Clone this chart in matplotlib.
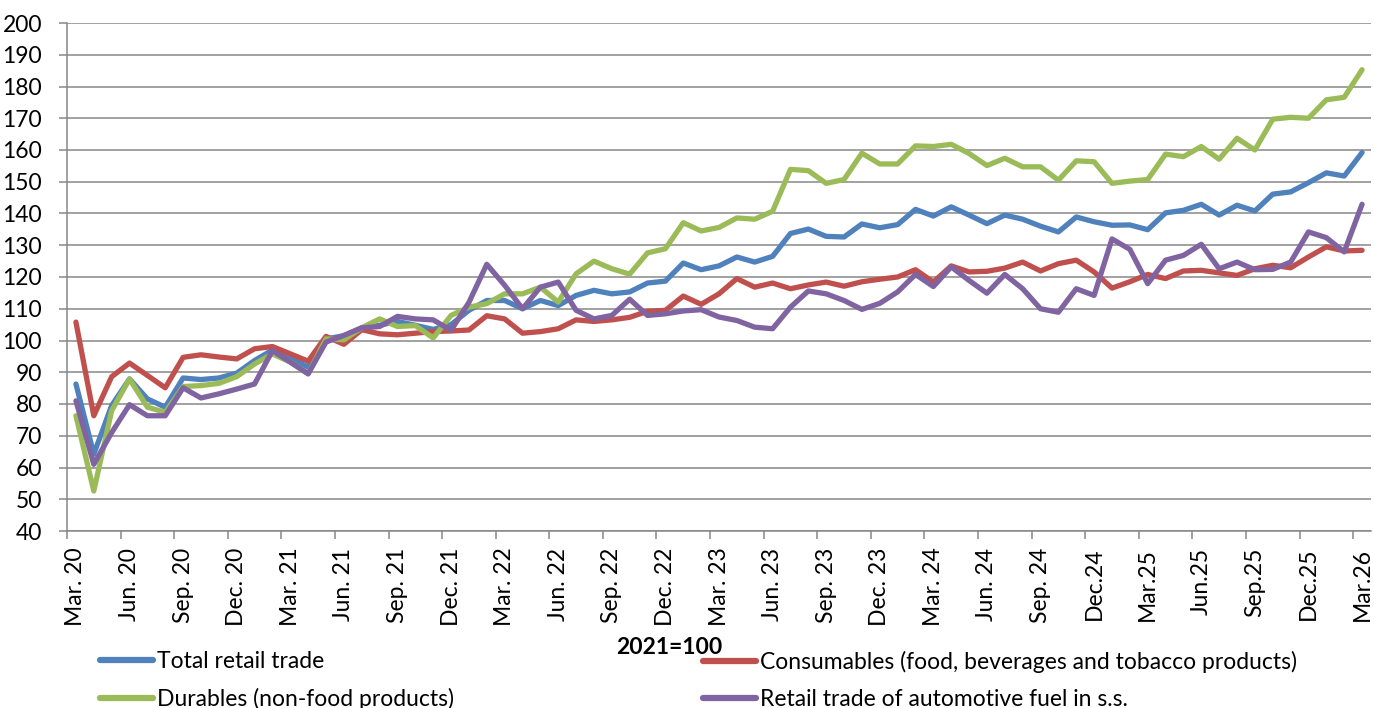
import matplotlib
matplotlib.use('Agg')
import matplotlib.pyplot as plt
import numpy as np

plt.rcParams['font.family'] = ['Lato', 'DejaVu Sans']

# monthly index values, Mar 2020 .. Mar 2026 (2021=100)
total = [86.3, 64.2, 79.5, 87.9, 81.6, 79.0, 88.2, 87.7, 88.2, 89.7, 93.7, 97.0, 94.5,
         91.6, 100.5, 101.5, 104.0, 104.8, 106.0, 104.8, 103.5, 105.0, 109.5, 112.6, 112.6,
         110.0, 112.6, 111.0, 114.2, 115.8, 114.7, 115.3, 118.1, 118.7, 124.4, 122.3, 123.5,
         126.3, 124.7, 126.5, 133.7, 135.1, 132.8, 132.6, 136.7, 135.5, 136.5, 141.3, 139.2,
         142.1, 139.5, 136.8, 139.5, 138.2, 136.0, 134.2, 138.9, 137.4, 136.3, 136.4, 134.9,
         140.2, 141.0, 142.9, 139.5, 142.6, 140.8, 146.1, 146.8, 149.7, 152.8, 151.8, 159.2]
consumables = [105.8, 76.3, 88.6, 92.9, 89.0, 85.1, 94.7, 95.5, 94.8, 94.2, 97.4, 98.1, 95.8,
               93.5, 101.3, 98.8, 103.4, 102.1, 101.8, 102.3, 102.8, 103.0, 103.3, 107.8, 106.8,
               102.3, 102.8, 103.7, 106.5, 106.0, 106.5, 107.3, 109.2, 109.5, 114.0, 111.4, 114.7,
               119.5, 116.8, 118.1, 116.3, 117.5, 118.4, 117.1, 118.5, 119.3, 120.0, 122.3, 118.4,
               123.5, 121.6, 121.8, 122.8, 124.7, 121.9, 124.2, 125.3, 121.6, 116.5, 118.5, 120.8,
               119.5, 121.9, 122.1, 121.3, 120.5, 122.6, 123.7, 122.9, 126.3, 129.5, 128.2, 128.4]
durables = [76.3, 52.6, 77.9, 87.9, 79.0, 77.4, 85.5, 85.8, 86.5, 88.6, 92.6, 95.8, 93.2,
            89.5, 100.5, 100.2, 104.0, 106.8, 104.4, 104.7, 100.8, 107.9, 110.5, 111.6, 114.7,
            114.7, 116.8, 112.1, 121.0, 125.0, 122.6, 120.9, 127.6, 128.9, 137.1, 134.5, 135.6,
            138.6, 138.2, 140.7, 153.9, 153.5, 149.5, 150.7, 159.0, 155.6, 155.6, 161.3, 161.1,
            161.8, 158.9, 155.1, 157.4, 154.7, 154.7, 150.5, 156.6, 156.3, 149.5, 150.2, 150.7,
            158.7, 157.9, 161.1, 157.1, 163.7, 160.0, 169.7, 170.3, 170.0, 175.8, 176.6, 185.3]
fuel = [81.0, 61.0, 71.0, 79.8, 76.3, 76.3, 85.1, 81.9, 83.2, 84.7, 86.3, 96.8, 93.2,
        89.5, 99.5, 101.6, 104.0, 104.4, 107.6, 106.8, 106.5, 103.2, 112.0, 124.0, 117.4,
        110.0, 116.8, 118.4, 109.5, 106.8, 107.9, 113.0, 107.9, 108.4, 109.3, 109.7, 107.4,
        106.3, 104.2, 103.7, 110.5, 115.6, 114.7, 112.6, 109.8, 111.7, 115.3, 120.8, 117.0,
        123.2, 118.9, 114.9, 120.8, 116.3, 110.0, 108.9, 116.3, 114.2, 132.0, 128.7, 117.9,
        125.3, 126.8, 130.3, 122.6, 124.7, 122.3, 122.4, 124.7, 134.2, 132.4, 127.9, 142.9]

tick_labels = ['Mar. 20', 'Jun. 20', 'Sep. 20', 'Dec. 20', 'Mar. 21', 'Jun. 21', 'Sep. 21',
               'Dec. 21', 'Mar. 22', 'Jun. 22', 'Sep. 22', 'Dec. 22', 'Mar. 23', 'Jun. 23',
               'Sep. 23', 'Dec. 23', 'Mar. 24', 'Jun. 24', 'Sep. 24', 'Dec.24', 'Mar.25',
               'Jun.25', 'Sep.25', 'Dec.25', 'Mar.26']

names = ['Total retail trade', 'Consumables (food, beverages and tobacco products)',
         'Durables (non-food products)', 'Retail trade of automotive fuel in s.s.']
colors = ['#4F81BD', '#C0504D', '#9BBB59', '#8064A2']

x = np.arange(len(total))

fig = plt.figure(figsize=(13.74, 7.08), dpi=100)
ax = fig.add_axes([67 / 1374, 1 - 531 / 708, (1371 - 67) / 1374, (531 - 23) / 708])

lines = []
for series, col, name in zip([total, consumables, durables, fuel], colors, names):
    ln, = ax.plot(x, series, color=col, lw=3.8, label=name, solid_joinstyle='round',
                  solid_capstyle='round')
    lines.append(ln)

ax.set_xlim(-0.5, len(total) - 0.5)
ax.set_ylim(40, 200)
ax.set_yticks(np.arange(40, 201, 10))
ax.yaxis.grid(True, color='#878787', lw=1.1)
ax.set_axisbelow(True)

ax.set_xticks(x[::3])
ax.set_xticklabels(tick_labels, rotation=90)
ax.set_xticks(np.arange(-0.5, len(total), 3), minor=True)
ax.tick_params(axis='x', which='major', length=0, pad=12, labelsize=16.5)
ax.tick_params(axis='x', which='minor', length=6, width=1.1, color='#878787', direction='out')
ax.tick_params(axis='y', length=6, width=1.1, color='#878787', pad=12, labelsize=16.5)

for s in ['top', 'right']:
    ax.spines[s].set_visible(False)
for s in ['left', 'bottom']:
    ax.spines[s].set_color('#878787')
    ax.spines[s].set_linewidth(1.1)

fig.text(669 / 1374, 1 - 647 / 708, '2021=100', ha='center', va='center',
         fontsize=16.5, fontweight='bold')

leg_kw = dict(frameon=False, fontsize=16.5, handlelength=2.3, handletextpad=0.2,
              labelspacing=0.68, borderpad=0, borderaxespad=0)
l1 = fig.legend([lines[0], lines[2]], [names[0], names[2]], loc='upper left',
                bbox_to_anchor=(100 / 1374, 1 - 651 / 708), **leg_kw)
l2 = fig.legend([lines[1], lines[3]], [names[1], names[3]], loc='upper left',
                bbox_to_anchor=(703 / 1374, 1 - 651 / 708), **leg_kw)
for lg in (l1, l2):
    for h in lg.legend_handles:
        h.set_linewidth(4.5)

fig.savefig('out.png', dpi=100)
